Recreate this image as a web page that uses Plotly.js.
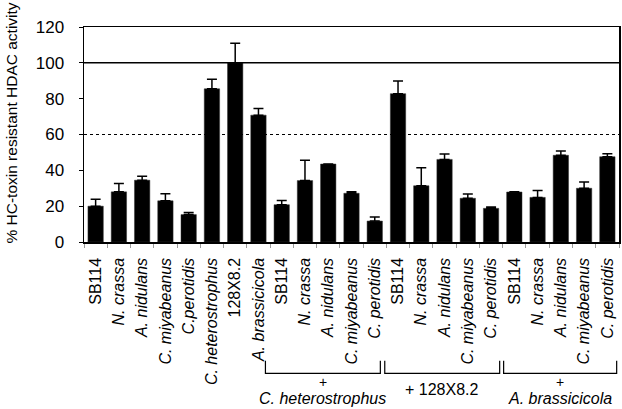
<!DOCTYPE html>
<html>
<head>
<meta charset="utf-8">
<script src="https://cdn.plot.ly/plotly-3.0.1.min.js"></script>
<style>html,body{margin:0;padding:0;background:#fff;}#chart{width:622px;height:409px;}</style>
</head>
<body>
<div id="chart"></div>
<script>
// Data
var labels = ["SB114", "<i>N. crassa</i>", "<i>A. nidulans</i>", "<i>C. miyabeanus</i>", "<i>C.perotidis</i>",
  "<i>C. heterostrophus</i>", "128X8.2", "<i>A. brassicicola</i>",
  "SB114", "<i>N. crassa</i>", "<i>A. nidulans</i>", "<i>C. miyabeanus</i>", "<i>C. perotidis</i>",
  "SB114", "<i>N. crassa</i>", "<i>A. nidulans</i>", "<i>C. miyabeanus</i>", "<i>C. perotidis</i>",
  "SB114", "<i>N. crassa</i>", "<i>A. nidulans</i>", "<i>C. miyabeanus</i>", "<i>C. perotidis</i>"];
var activity = [20, 28, 34.5, 23, 15.3, 85.5, 100, 70.8,
  20.8, 34.3, 43.5, 27.2, 11.7,
  82.8, 31.4, 46.1, 24.4, 18.8,
  27.9, 24.9, 48.4, 30, 47.6];
var errorPlus = [3.8, 4.6, 2.2, 3.9, 1.1, 5.3, 11, 3.7,
  2.4, 11.3, 0, 0.9, 2.3,
  7.1, 10.1, 3, 2.4, 0.7,
  0.2, 3.9, 2.4, 3.5, 1.7];
var yTicks = [0, 20, 40, 60, 80, 100, 120];
var groupPlus = ["+", "+ 128X8.2", "+"];
var groupNames = ["<i>C. heterostrophus</i>", "", "<i>A. brassicicola</i>"];
var groupRanges = [[7.3, 12.24], [12.43, 17.37], [17.54, 22.4]];

var idx = activity.map(function (_, i) { return i; });
var bounds = [];
for (var b = 0; b <= labels.length; b++) bounds.push(b - 0.5);

var FONT = "Liberation Sans, Arial, sans-serif";

var trace = {
  type: "bar",
  x: idx,
  y: activity,
  marker: { color: "#000", line: { color: "#333", width: 0.5 } },
  error_y: { type: "data", symmetric: false, array: errorPlus, arrayminus: activity.map(function () { return 0; }),
    color: "#000", thickness: 1.5, width: 5 },
  hoverinfo: "none"
};

var shapes = [
  { type: "line", xref: "paper", yref: "y", x0: 0, x1: 1, y0: 100, y1: 100, line: { color: "#000", width: 1.5 } },
  { type: "line", xref: "paper", yref: "y", x0: 0, x1: 1, y0: 60, y1: 60, line: { color: "#000", width: 1, dash: "dot" } }
];
var annotations = [
  { xref: "paper", yref: "paper", x: -0.136, y: 0.552, text: "% HC-toxin resistant HDAC activity", textangle: -90,
    showarrow: false, font: { family: FONT, size: 15.5, color: "#000" }, xanchor: "center", yanchor: "middle" }
];
var topY = -0.552, botY = -0.611;
groupRanges.forEach(function (r, i) {
  shapes.push({ type: "path", xref: "x", yref: "paper",
    path: "M" + r[0] + "," + topY + " L" + r[0] + "," + botY + " L" + r[1] + "," + botY + " L" + r[1] + "," + topY,
    line: { color: "#000", width: 1.2 } });
  var cx = (r[0] + r[1]) / 2;
  var hasName = groupNames[i] !== "";
  annotations.push({ xref: "x", yref: "paper", x: cx, y: hasName ? -0.651 : -0.686,
    text: groupPlus[i], showarrow: false, xanchor: "center", yanchor: "middle",
    font: { family: FONT, size: hasName ? 14 : 16, color: "#000" } });
  if (hasName) {
    annotations.push({ xref: "x", yref: "paper", x: cx, y: -0.7767,
      text: groupNames[i], showarrow: false, xanchor: "center", yanchor: "bottom",
      font: { family: FONT, size: 16, color: "#000" } });
  }
});

var layout = {
  width: 622, height: 409,
  margin: { l: 84, r: 2.5, t: 27, b: 167, pad: 0 },
  paper_bgcolor: "#fff", plot_bgcolor: "#fff",
  showlegend: false,
  bargap: 0.34,
  font: { family: FONT, color: "#000" },
  xaxis: {
    range: [-0.5, labels.length - 0.5],
    tickmode: "array", tickvals: idx, ticktext: labels, tickangle: -90,
    ticks: "", showgrid: false, zeroline: false,
    showline: true, linecolor: "#000", linewidth: 1.5, mirror: true,
    tickfont: { family: FONT, size: 16, color: "#000" },
    ticklabelstandoff: 8,
    minor: { tickmode: "array", tickvals: bounds, ticks: "outside", ticklen: 4, tickcolor: "#999", tickwidth: 1, showgrid: false }
  },
  yaxis: {
    range: [0, 120], tickmode: "array", tickvals: yTicks,
    ticks: "outside", ticklen: 4, tickcolor: "#000",
    showgrid: false, zeroline: false,
    showline: true, linecolor: "#000", linewidth: 1.5, mirror: true,
    tickfont: { family: FONT, size: 17, color: "#000" },
    ticklabelstandoff: 11
  },
  shapes: shapes,
  annotations: annotations
};

Plotly.newPlot("chart", [trace], layout, { displayModeBar: false, staticPlot: true });
</script>
</body>
</html>
